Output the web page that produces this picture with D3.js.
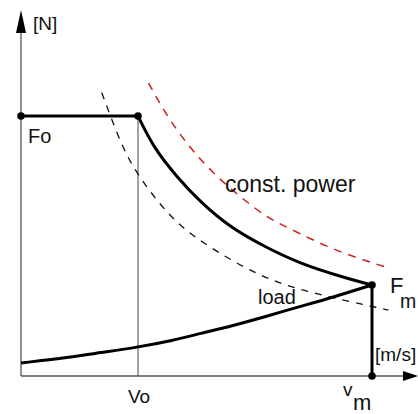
<!DOCTYPE html>
<html>
<head>
<meta charset="utf-8">
<script src="https://cdn.jsdelivr.net/npm/d3@7"></script>
<style>
  body { margin: 0; background: #fff; }
  text { font-family: "Liberation Sans", Arial, sans-serif; fill: #111; }
</style>
</head>
<body>
<script>
// values (v in m/s, F in N, arbitrary units)
const v0 = 10, vm = 30;
const F0 = 300, Fm = 105;

// motor characteristic above v0 (falls like const power)
const motorV = [10, 11.3, 13.3, 15.3, 17.9, 21.0, 23.8, 27.5, 30];
const motorF = [300, 264, 230, 201, 171, 148, 130, 114, 105];

// red dashed: constant power
const powerV = [10.9, 12.5, 14.4, 16.4, 18.7, 21.0, 22.7, 26.7, 31.1];
const powerF = [338, 299, 264, 234, 207, 183, 172, 145, 126];

// black dashed hyperbola
const hypV = [6.9, 8.3, 9.6, 12.7, 15.3, 20.4, 24.7, 31.4];
const hypF = [327, 276, 238, 183, 155, 114, 96, 76];

// load curve
const loadV = [0, 3.9, 6.8, 9.9, 13.0, 15.3, 18.1, 21.0, 23.8, 26.7, 30];
const loadF = [15, 21, 27, 33, 41, 49, 58, 69, 80, 91, 105];

const W = 418, H = 414;
const x = d3.scaleLinear().domain([0, vm]).range([21, 372]);
const y = d3.scaleLinear().domain([0, F0]).range([376, 116]);

const svg = d3.select("body").append("svg")
  .attr("width", W).attr("height", H);

const zip = (a, b) => a.map((d, i) => [d, b[i]]);
const line = d3.line().x(d => x(d[0])).y(d => y(d[1])).curve(d3.curveBasis);

// axes
svg.append("line")
  .attr("x1", x(0)).attr("y1", y(0)).attr("x2", x(0)).attr("y2", 30)
  .attr("stroke", "#555").attr("stroke-width", 1.3);
svg.append("line")
  .attr("x1", x(0)).attr("y1", y(0)).attr("x2", 406).attr("y2", y(0))
  .attr("stroke", "#555").attr("stroke-width", 1.3);
svg.append("path")
  .attr("d", `M${x(0)},10 L${x(0) + 5},33 L${x(0) - 5},33 Z`)
  .attr("fill", "#000");
svg.append("path")
  .attr("d", `M418,${y(0)} L403,${y(0) - 5} L403,${y(0) + 5} Z`)
  .attr("fill", "#000");

// thin v0 line
svg.append("line")
  .attr("x1", x(v0)).attr("x2", x(v0)).attr("y1", y(F0)).attr("y2", y(0))
  .attr("stroke", "#444").attr("stroke-width", 1);

// dashed curves
svg.append("path").datum(zip(hypV, hypF))
  .attr("d", line).attr("fill", "none")
  .attr("stroke", "#111").attr("stroke-width", 1.3)
  .attr("stroke-dasharray", "7,7");
svg.append("path").datum(zip(powerV, powerF))
  .attr("d", line).attr("fill", "none")
  .attr("stroke", "#cc1f1f").attr("stroke-width", 1.5)
  .attr("stroke-dasharray", "8,7");

// thick characteristic
svg.append("line")
  .attr("x1", x(0)).attr("x2", x(v0)).attr("y1", y(F0)).attr("y2", y(F0))
  .attr("stroke", "#000").attr("stroke-width", 3);
svg.append("path").datum(zip(motorV, motorF))
  .attr("d", line).attr("fill", "none")
  .attr("stroke", "#000").attr("stroke-width", 3);
svg.append("line")
  .attr("x1", x(vm)).attr("x2", x(vm)).attr("y1", y(Fm)).attr("y2", y(0))
  .attr("stroke", "#000").attr("stroke-width", 3);
svg.append("path").datum(zip(loadV, loadF))
  .attr("d", line).attr("fill", "none")
  .attr("stroke", "#000").attr("stroke-width", 3);

// dots
svg.selectAll("circle.pt")
  .data([[0, F0], [v0, F0], [vm, Fm], [vm, 0]])
  .join("circle").attr("class", "pt")
  .attr("cx", d => x(d[0])).attr("cy", d => y(d[1]))
  .attr("r", 3.8).attr("fill", "#000");

// labels
const label = (t, px, py, size) =>
  svg.append("text").attr("x", px).attr("y", py)
    .attr("font-size", size).text(t);

label("[N]", 33, 30, 19);
label("Fo", 28, 143, 20);
label("const. power", 225, 192, 23);
label("load", 258, 304, 20);
label("F", 390, 293, 22);
label("m", 400, 308, 19.5);
label("[m/s]", 375, 361, 19);
label("Vo", 128, 403, 19);
label("v", 343, 396, 19);
label("m", 353, 410, 22);
</script>
</body>
</html>
